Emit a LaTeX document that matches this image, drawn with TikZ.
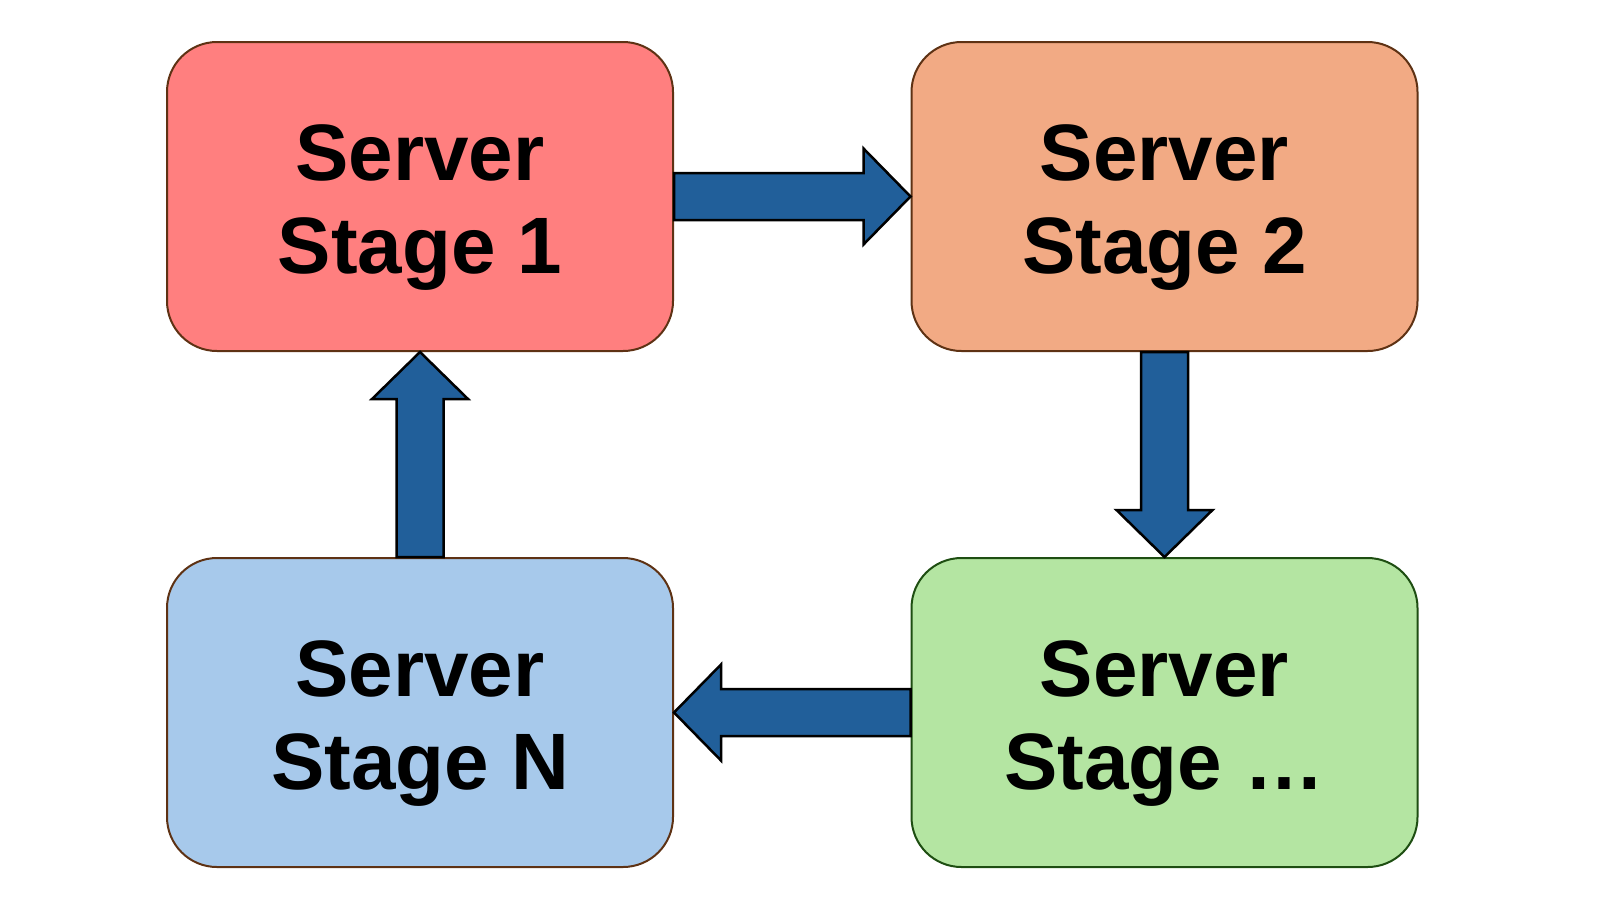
\documentclass[tikz,border=0pt]{standalone}
\usepackage{fontspec}
\setmainfont{Liberation Sans}
\usetikzlibrary{calc}
\definecolor{redfill}{HTML}{FF7F7F}
\definecolor{orangefill}{HTML}{F2AA84}
\definecolor{greenfill}{HTML}{B4E5A2}
\definecolor{bluefill}{HTML}{A7C9EB}
\definecolor{brownline}{HTML}{5E3214}
\definecolor{greenline}{HTML}{1E4E12}
\definecolor{arrowfill}{HTML}{215F9A}
\tikzset{
  stagebox/.style={draw=brownline, line width=2pt, rounded corners=50pt,
    minimum width=506pt, minimum height=309pt, inner sep=0pt},
  lbl/.style={align=center, font=\fontsize{80}{93}\selectfont\bfseries, inner sep=0pt},
  blockarrow/.style={draw=black, line width=2.5pt, fill=arrowfill, line join=miter},
}
\begin{document}
\begin{tikzpicture}[x=1pt, y=-1pt]
\useasboundingbox (0,0) rectangle (1600,900);
\node[stagebox, fill=redfill] (b1) at (420,196.5) {};
\node[stagebox, fill=orangefill] (b2) at (1164.5,196.5) {};
\node[stagebox, fill=greenfill, draw=greenline] (b3) at (1164.5,712.5) {};
\node[stagebox, fill=bluefill] (b4) at (420,712.5) {};
\node[lbl] (l1) at ($(b1.center)+(0,11)$) {Server\\Stage 1};
\node[lbl] (l2) at ($(b2.center)+(0,11)$) {Server\\Stage 2};
\node[lbl] (l3) at ($(b3.center)+(0,11)$) {Server\\Stage …};
\node[lbl] (l4) at ($(b4.center)+(0,11)$) {Server\\Stage N};
% 1 -> 2
\draw[blockarrow] ($(b1.east)+(0,-23.5)$) -- ($(b2.west)+(-47,-23.5)$) -- ($(b2.west)+(-47,-48)$)
  -- (b2.west) -- ($(b2.west)+(-47,48)$) -- ($(b2.west)+(-47,23.5)$) -- ($(b1.east)+(0,23.5)$) -- cycle;
% 2 -> 3
\draw[blockarrow] ($(b2.south)+(-23.5,0)$) -- ($(b3.north)+(-23.5,-47)$) -- ($(b3.north)+(-48,-47)$)
  -- (b3.north) -- ($(b3.north)+(48,-47)$) -- ($(b3.north)+(23.5,-47)$) -- ($(b2.south)+(23.5,0)$) -- cycle;
% 3 -> N
\draw[blockarrow] ($(b3.west)+(0,-23.5)$) -- ($(b4.east)+(47,-23.5)$) -- ($(b4.east)+(47,-48)$)
  -- (b4.east) -- ($(b4.east)+(47,48)$) -- ($(b4.east)+(47,23.5)$) -- ($(b3.west)+(0,23.5)$) -- cycle;
% N -> 1
\draw[blockarrow] ($(b4.north)+(-23.5,0)$) -- ($(b1.south)+(-23.5,47)$) -- ($(b1.south)+(-48,47)$)
  -- (b1.south) -- ($(b1.south)+(48,47)$) -- ($(b1.south)+(23.5,47)$) -- ($(b4.north)+(23.5,0)$) -- cycle;
\end{tikzpicture}
\end{document}
